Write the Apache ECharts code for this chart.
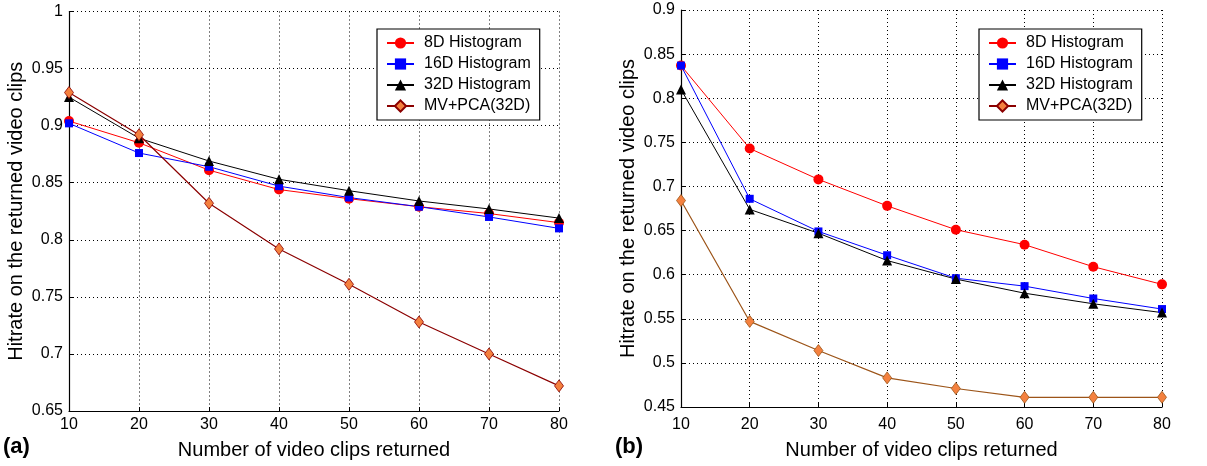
<!DOCTYPE html>
<html><head><meta charset="utf-8">
<script src="https://cdn.jsdelivr.net/npm/echarts@6/dist/echarts.min.js"></script>
<style>html,body{margin:0;padding:0;background:#fff}#c{width:1207px;height:466px}</style>
</head><body><div id="c"></div>
<script>
const xValues = [10, 20, 30, 40, 50, 60, 70, 80];
const seriesNames = ['8D Histogram', '16D Histogram', '32D Histogram', 'MV+PCA(32D)'];
// Panel (a)
const a8D  = [0.904, 0.885, 0.861, 0.844, 0.836, 0.829, 0.823, 0.815];
const a16D = [0.902, 0.876, 0.864, 0.847, 0.837, 0.829, 0.820, 0.810];
const a32D = [0.925, 0.889, 0.869, 0.853, 0.843, 0.834, 0.827, 0.819];
const aMV  = [0.929, 0.892, 0.832, 0.792, 0.761, 0.728, 0.700, 0.672];
// Panel (b)
const b8D  = [0.837, 0.743, 0.708, 0.678, 0.651, 0.634, 0.609, 0.589];
const b16D = [0.837, 0.686, 0.649, 0.622, 0.596, 0.587, 0.573, 0.561];
const b32D = [0.810, 0.674, 0.647, 0.616, 0.595, 0.579, 0.567, 0.557];
const bMV  = [0.684, 0.547, 0.514, 0.483, 0.471, 0.461, 0.461, 0.461];
const xAxisTitle = 'Number of video clips returned';
const yAxisTitle = 'Hitrate on the returned video clips';
const panelLabels = ['(a)', '(b)'];

const FONT = '"Liberation Sans", Arial, sans-serif';
const pair = arr => arr.map((v, i) => [xValues[i], v]);

function mkX(idx, margin, gap) {
  return {
    type: 'value', gridIndex: idx, min: 10, max: 80, interval: 10,
    name: xAxisTitle, nameLocation: 'middle', nameGap: gap,
    nameTextStyle: {fontFamily: FONT, fontSize: 20, color: '#000'},
    axisLine: {lineStyle: {color: '#000', width: 1.2}},
    axisTick: {inside: true, length: 4, lineStyle: {color: '#000'}},
    axisLabel: {fontFamily: FONT, fontSize: 16, color: '#000', margin: margin},
    splitLine: {show: true, lineStyle: {color: '#000', type: [1, 3], width: 1}}
  };
}
function mkY(idx, min, max) {
  return {
    type: 'value', gridIndex: idx, min: min, max: max, interval: 0.05,
    name: yAxisTitle, nameLocation: 'middle', nameGap: 43,
    nameTextStyle: {fontFamily: FONT, fontSize: 20, color: '#000'},
    axisLine: {show: true, lineStyle: {color: '#000', width: 1.2}},
    axisTick: {show: true, inside: true, length: 4, lineStyle: {color: '#000'}},
    axisLabel: {fontFamily: FONT, fontSize: 16, color: '#000', margin: 6,
      formatter: v => String(parseFloat(v.toFixed(2)))},
    splitLine: {show: true, lineStyle: {color: '#000', type: [1, 3], width: 1}}
  };
}
function mkSeries(idx, d8, d16, d32, dmv, mvLine) {
  const base = {type: 'line', xAxisIndex: idx, yAxisIndex: idx, z: 3};
  return [
    Object.assign({}, base, {name: seriesNames[0], data: pair(d8), symbol: 'circle', symbolSize: 10,
      lineStyle: {color: '#ff0000', width: 1}, itemStyle: {color: '#ff0000'}}),
    Object.assign({}, base, {name: seriesNames[1], data: pair(d16), symbol: 'rect', symbolSize: 8,
      lineStyle: {color: '#0000ff', width: 1}, itemStyle: {color: '#0000ff'}}),
    Object.assign({}, base, {name: seriesNames[2], data: pair(d32), symbol: 'triangle', symbolSize: 10,
      lineStyle: {color: '#000000', width: 1}, itemStyle: {color: '#000000'}}),
    Object.assign({}, base, {name: seriesNames[3], data: pair(dmv), symbol: 'diamond', symbolSize: [9, 12],
      lineStyle: {color: mvLine, width: 1.2}, itemStyle: {color: '#f4813f', borderColor: mvLine, borderWidth: 0.8}})
  ];
}
function mkLegend(left) {
  return {
    data: seriesNames.map(n => ({name: n})),
    orient: 'vertical', left: left, top: 29, padding: [6, 9, 6, 9],
    borderColor: '#000', borderWidth: 1.2, itemGap: 5, itemWidth: 27, itemHeight: 14,
    backgroundColor: '#fff',
    textStyle: {fontFamily: FONT, fontSize: 16, color: '#000', lineHeight: 14, padding: [0, 0, 0, 5]},
    selectedMode: false
  };
}

const chart = echarts.init(document.getElementById('c'), null, {renderer: 'canvas'});
const sa = mkSeries(0, a8D, a16D, a32D, aMV, '#8b0000');
const sb = mkSeries(1, b8D, b16D, b32D, bMV, '#9c5418');
chart.setOption({
  animation: false,
  backgroundColor: '#fff',
  grid: [
    {left: 69, right: 648, top: 11.5, bottom: 55},
    {left: 681, right: 45, top: 10, bottom: 59}
  ],
  xAxis: [mkX(0, 6, 29), mkX(1, 10, 33)],
  yAxis: [mkY(0, 0.65, 1), mkY(1, 0.45, 0.9)],
  legend: [mkLegend(377), mkLegend(979)],
  series: sa.concat(sb),
  graphic: [
    {type: 'text', left: 3, top: 436, style: {text: panelLabels[0], font: 'bold 22px ' + FONT, fill: '#000'}},
    {type: 'text', left: 615, top: 436, style: {text: panelLabels[1], font: 'bold 22px ' + FONT, fill: '#000'}}
  ]
});
</script></body></html>
